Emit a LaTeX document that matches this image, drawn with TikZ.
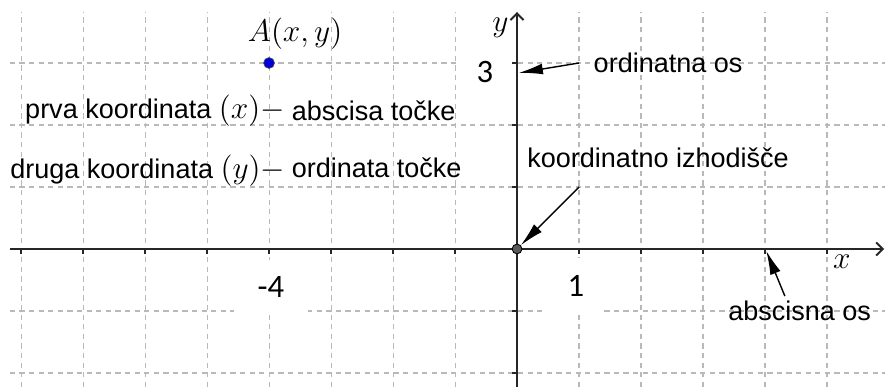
\documentclass[tikz,border=0pt]{standalone}
\usepackage{fontspec}
\setmainfont{Liberation Sans}
\newfontfamily\numfont{Carlito}
\usetikzlibrary{arrows.meta}

\tikzset{
  gridline/.style={draw=gray!55, line width=0.5pt, dash pattern=on 2.4pt off 2pt},
  axis/.style={line width=0.9pt, black!85, -{Straight Barb[length=3pt,width=6pt]}},
  tick/.style={line width=0.9pt, black!85},
  pointer/.style={line width=0.65pt, -{Latex[length=11pt,width=5pt]}},
  note/.style={inner sep=0pt, anchor=base west, font=\fontsize{12.4}{14}\selectfont},
  numlabel/.style={fill=white, inner sep=0pt, font=\numfont\fontsize{15}{17}\selectfont},
}
\newcommand{\bigmath}[1]{{\fontsize{13.5}{16}\selectfont$#1$}}

\begin{document}
\begin{tikzpicture}
        \useasboundingbox (-8.34,-2.226) rectangle (5.935,4.016);
        % dashed grid, one unit per square
        \foreach \x in {-8,...,5}
          \draw[gridline] (\x,-2.226) -- (\x,3.82);
        \foreach \y in {-2,-1,1,2,3}
          \draw[gridline] (-8.18,\y) -- (5.935,\y);
        % numbers on white patches
        \node[numlabel, minimum width=0.9cm, minimum height=0.85cm] (three) at (-0.52,2.85) {3};
        \node[numlabel, minimum width=1.2cm, minimum height=0.9cm] (minusfour) at (-3.97,-0.62) {-4};
        \node[numlabel, minimum width=0.92cm, minimum height=0.9cm] (one) at (0.95,-0.6) {1};
        % axes with ticks below / left
        \draw[axis] (-8.18,0) -- (5.92,0);
        \draw[axis] (0,-2.226) -- (0,3.82);
        \foreach \x in {-8,...,-1,1,2,...,5}
          \draw[tick] (\x,0) -- (\x,-0.08);
        \foreach \y in {-2,-1,1,2,3}
          \draw[tick] (0,\y) -- (-0.08,\y);
        \node[font=\fontsize{14.4}{17}\selectfont] (ylab) at (-0.27,3.56) {$y$};
        \node[font=\fontsize{14.4}{17}\selectfont] (xlab) at (5.24,-0.21) {$x$};
        % point A(-4,3) and the origin
        \node[circle, fill=blue!85!black, draw=black!70, line width=0.3pt, minimum size=5pt, inner sep=0pt] (A) at (-4,3) {};
        \node[font=\fontsize{14.4}{17}\selectfont] (Alab) at (-3.58,3.47) {$A(x,y)$};
        \node[circle, fill=black!65, draw=black, line width=0.4pt, minimum size=4.5pt, inner sep=0pt] (O) at (0,0) {};
        % captions
        \node[note] (prva) at (-7.94,2.1) {prva koordinata \bigmath{(x)-}};
        \node[note] (abscisa) at (-3.64,2.08) {abscisa točke};
        \node[note] (druga) at (-8.18,1.14) {druga koordinata \bigmath{(y)-}};
        \node[note] (ordinata) at (-3.64,1.15) {ordinata točke};
        \node[note] (ordos) at (1.23,2.84) {ordinatna os};
        \node[note] (izhod) at (0.16,1.31) {koordinatno izhodišče};
        \node[note] (absos) at (3.40,-1.15) {abscisna os};
        % pointers
        \coordinate (ordtail) at (1,3);
        \coordinate (ordtip) at (0.03,2.84);
        \draw[pointer] (ordtail) -- (ordtip);
        \coordinate (izhtail) at (1,1);
        \draw[pointer] (izhtail) -- (O);
        \coordinate (abstail) at (4.32,-0.76);
        \coordinate (abstip) at (4.02,-0.03);
        \draw[pointer] (abstail) -- (abstip);
      \end{tikzpicture}
\end{document}
